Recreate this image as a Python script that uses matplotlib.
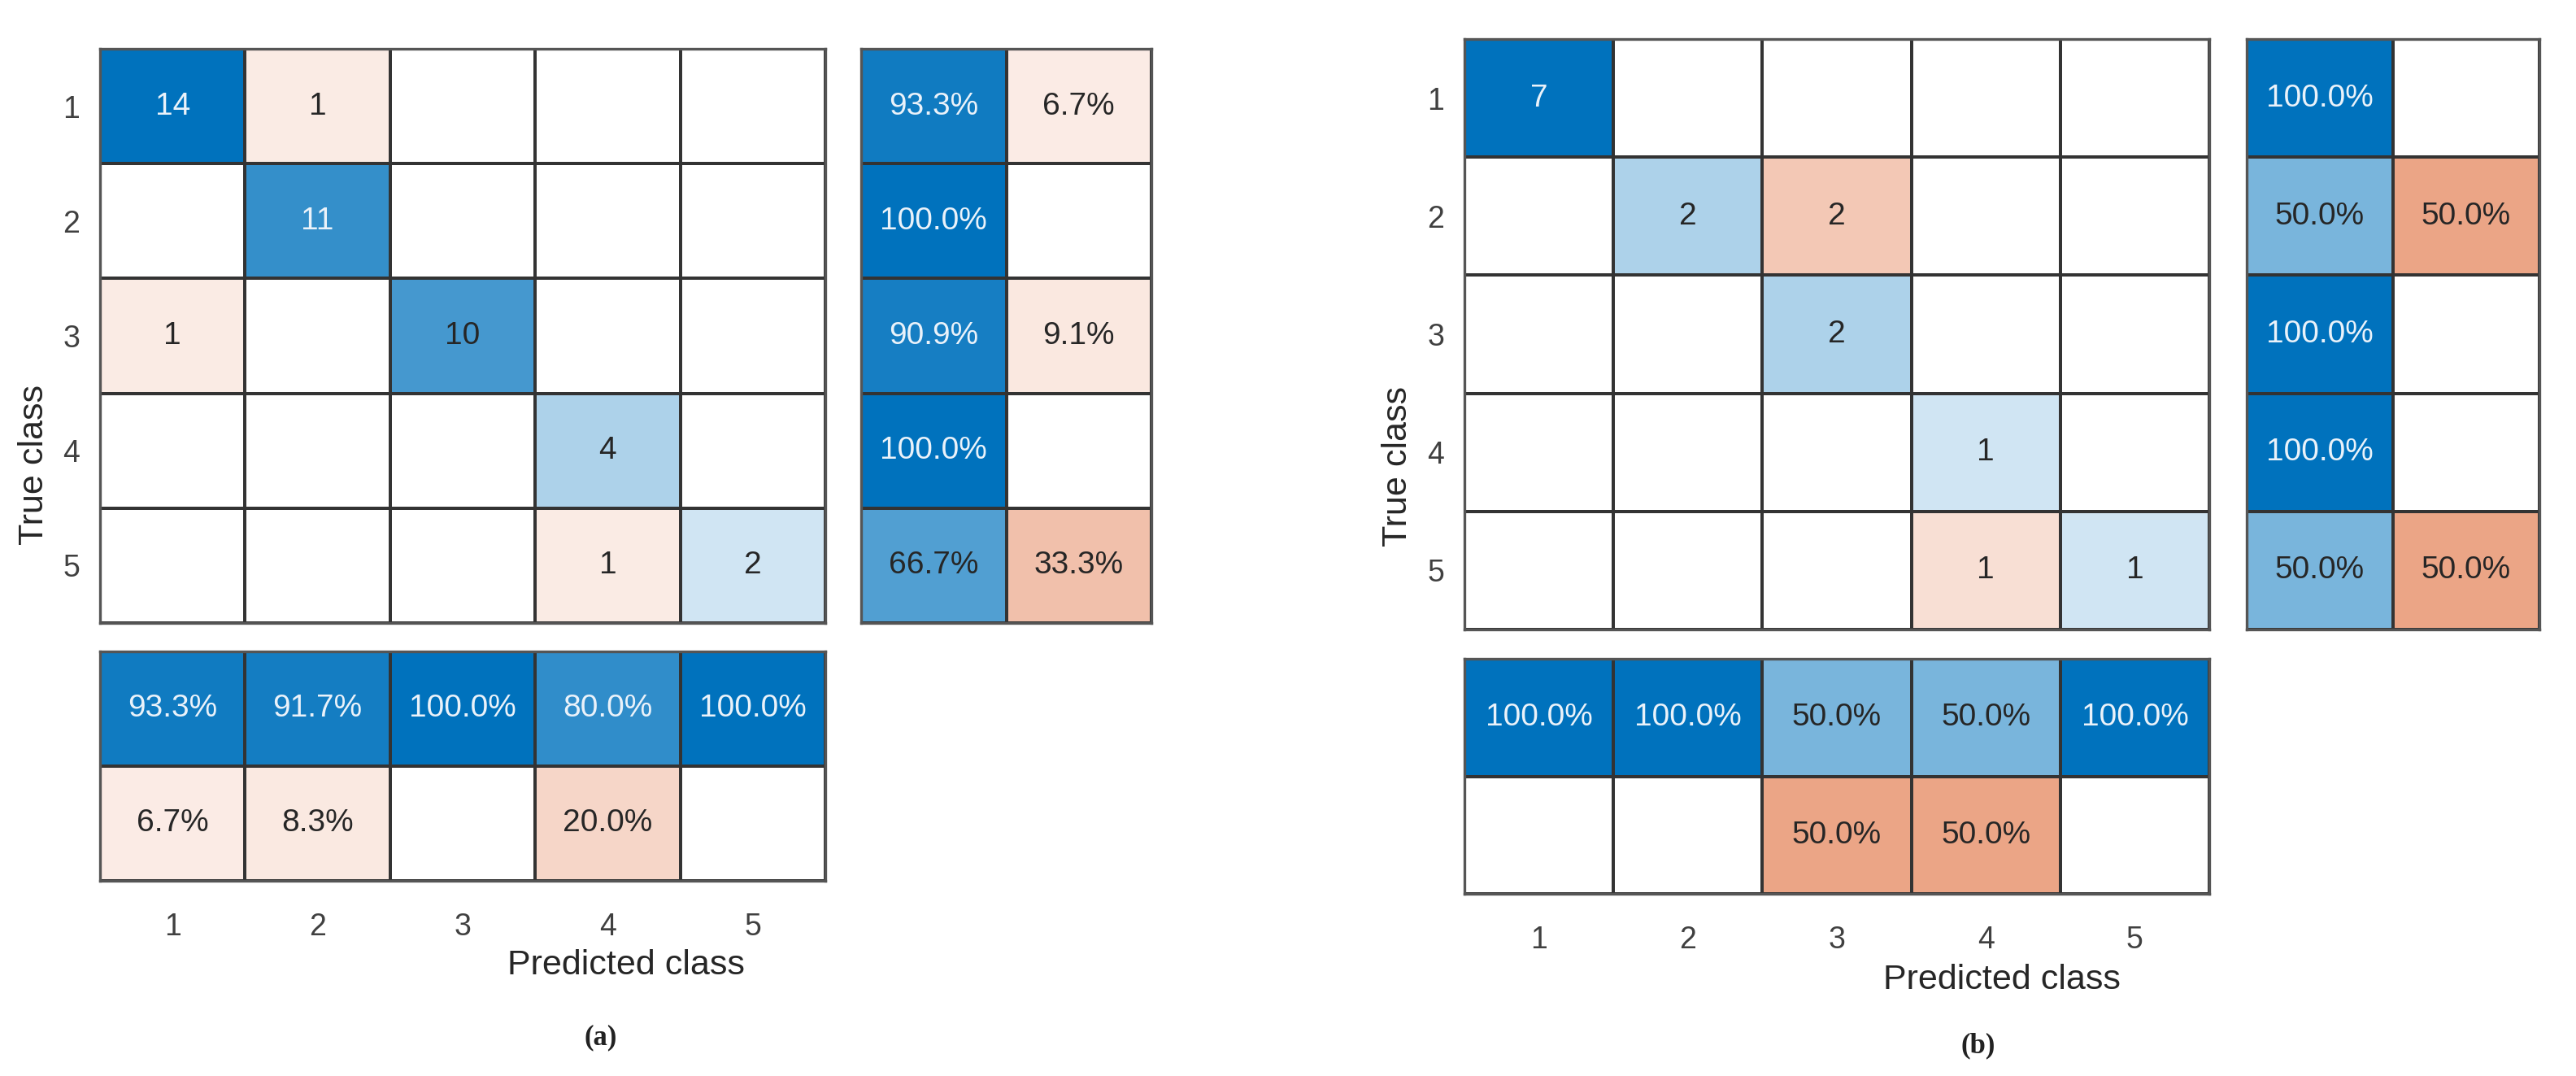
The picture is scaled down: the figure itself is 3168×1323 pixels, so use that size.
import numpy as np
import matplotlib
matplotlib.use("Agg")
import matplotlib.pyplot as plt

# confusion matrices (rows = true class, cols = predicted)
classes = ["1", "2", "3", "4", "5"]
cm_a = np.array([[14, 1, 0, 0, 0],
                 [0, 11, 0, 0, 0],
                 [1, 0, 10, 0, 0],
                 [0, 0, 0, 4, 0],
                 [0, 0, 0, 1, 2]])
cm_b = np.array([[7, 0, 0, 0, 0],
                 [0, 2, 2, 0, 0],
                 [0, 0, 2, 0, 0],
                 [0, 0, 0, 1, 0],
                 [0, 0, 0, 1, 1]])
panel_tags = ["(a)", "(b)"]

BLUE = np.array([0.0, 0.447, 0.741])
ORANGE = np.array([0.85, 0.325, 0.098])
LIGHT_TXT = "#eaf2fa"
DARK_TXT = "#262626"
GRID = "#333333"
SANS = ["Liberation Sans", "DejaVu Sans"]

W, H = 3168, 1323
fig = plt.figure(figsize=(W / 100, H / 100), dpi=100)


def px_axes(x0, y0, x1, y1):
    return fig.add_axes([x0 / W, 1 - y1 / H, (x1 - x0) / W, (y1 - y0) / H])


def fx(x):
    return x / W


def fy(y):
    return 1 - y / H


def draw_block(ax, frac, blue_mask, labels, fsize):
    # shading strength: small non-zero cells still get a visible tint
    alpha = np.where(frac > 0, 0.05 + 0.95 * frac, 0.0)[..., None]
    rgb = np.where(blue_mask[..., None], 1 - alpha * (1 - BLUE),
                   1 - alpha * (1 - ORANGE))
    m, n = frac.shape
    ax.pcolormesh(np.arange(n + 1), np.arange(m + 1), rgb,
                  edgecolors=GRID, linewidth=1.6, shading="flat")
    ax.set_xlim(0, n)
    ax.set_ylim(m, 0)
    for i in range(m):
        for j in range(n):
            if labels[i][j]:
                c = LIGHT_TXT if frac[i, j] > 0.75 else DARK_TXT
                ax.text(j + 0.5, i + 0.5, labels[i][j], ha="center", va="center",
                        fontsize=fsize, color=c, family=SANS)
    ax.set_xticks([])
    ax.set_yticks([])
    for s in ax.spines.values():
        s.set_color("#555555")
        s.set_linewidth(2.4)


def confusion_panel(cm, main_box, row_box, col_box, ylab_x, xlab_y, tag_xy, tag):
    n = cm.shape[0]
    eye = np.eye(n, dtype=bool)
    diag = np.diag(cm).astype(float)
    rowsum = cm.sum(axis=1)
    colsum = cm.sum(axis=0)

    ax = px_axes(*main_box)
    draw_block(ax, cm / cm.max(), eye,
               [[str(v) if v > 0 else "" for v in r] for r in cm], 28)
    ax.set_yticks(np.arange(n) + 0.5)
    ax.set_yticklabels(classes, fontsize=27, color="#404040", family=SANS)
    ax.tick_params(axis="y", length=0, pad=18)

    # row summary: recall / miss rate
    tp = diag / rowsum
    rs = np.column_stack([tp, 1 - tp])
    rmask = np.column_stack([np.ones(n, bool), np.zeros(n, bool)])
    axr = px_axes(*row_box)
    draw_block(axr, rs, rmask,
               [[f"{100 * v:.1f}%" if v > 0.0001 else "" for v in r] for r in rs], 28)

    # column summary: precision / false discovery
    pp = diag / colsum
    cs = np.vstack([pp, 1 - pp])
    cmask = np.vstack([np.ones(n, bool), np.zeros(n, bool)])
    axc = px_axes(*col_box)
    draw_block(axc, cs, cmask,
               [[f"{100 * v:.1f}%" if v > 0.0001 else "" for v in r] for r in cs], 28)
    axc.set_xticks(np.arange(n) + 0.5)
    axc.set_xticklabels(classes, fontsize=27, color="#404040", family=SANS)
    axc.tick_params(axis="x", length=0, pad=28)

    x_mid = (main_box[0] + row_box[2]) / 2
    y_mid = (main_box[1] + col_box[3]) / 2
    fig.text(fx(x_mid), fy(xlab_y), "Predicted class", ha="center", va="center",
             fontsize=31, color="#262626", family=SANS)
    fig.text(fx(ylab_x), fy(y_mid), "True class", ha="center", va="center",
             rotation=90, fontsize=31, color="#262626", family=SANS)
    fig.text(fx(tag_xy[0]), fy(tag_xy[1]), tag, ha="center", va="center",
             fontsize=25, fontweight="bold", color="#222222", family="Liberation Serif")


confusion_panel(cm_a, (123, 60, 1015, 766), (1059, 60, 1416, 766), (123, 801, 1015, 1083),
                42, 1187, (739, 1276), panel_tags[0])
confusion_panel(cm_b, (1801, 48, 2717, 774), (2763, 48, 3123, 774), (1801, 810, 2717, 1099),
                1719, 1205, (2433, 1286), panel_tags[1])

fig.savefig("out.png", dpi=100, facecolor="white")
